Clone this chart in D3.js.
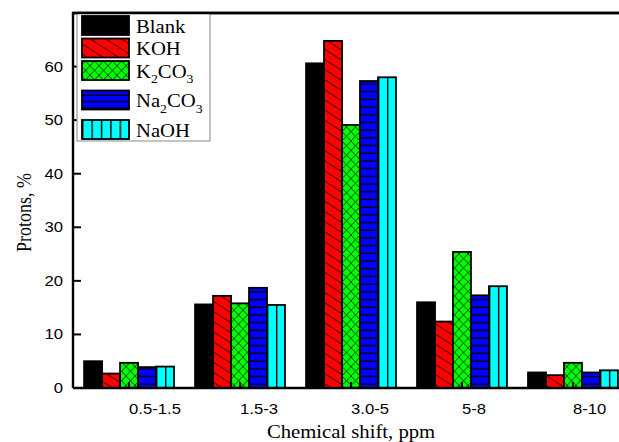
<!DOCTYPE html>
<html>
<head>
<meta charset="utf-8">
<script src="https://cdn.jsdelivr.net/npm/d3@7"></script>
<style>
	body { margin: 0; background: #fff; }
	svg { display: block; }
</style>
</head>
<body>
<svg id="visual" width="619" height="442"></svg>
<script>
// data
var categories = ["0.5-1.5", "1.5-3", "3.0-5", "5-8", "8-10"];
var series = ["Blank", "KOH", "K2CO3", "Na2CO3", "NaOH"];
var blank  = [5.0, 15.6, 60.6, 16.0, 2.9];
var koh    = [2.7, 17.2, 64.8, 12.4, 2.4];
var k2co3  = [4.7, 15.8, 49.1, 25.4, 4.7];
var na2co3 = [3.9, 18.7, 57.3, 17.3, 2.9];
var naoh   = [4.0, 15.5, 58.0, 19.0, 3.3];
var yTicks = [0, 10, 20, 30, 40, 50, 60];

var values = [blank, koh, k2co3, na2co3, naoh];
var fills = ["#000000", "#ff0000", "#00ff00", "#0000ff", "#00ffff"];

var svg = d3.select("#visual");
// note: "top" is taken by window.top, so plot edges get their own names
var plotL = 73, plotT = 13, plotB = 388, plotR = 629;
var stretch = "scale(1.15,1)";

var x = d3.scaleBand()
	.domain(categories)
	.range([plotL, plotR])
	.paddingInner(0.19)
	.paddingOuter(0.1);
var xs = d3.scaleBand()
	.domain(series)
	.range([0, x.bandwidth()]);
var y = d3.scaleLinear()
	.domain([0, 70])
	.range([plotB, plotT]);

// hatch patterns
var defs = svg.append("defs");

function hatchKOH(id) {
	var p = defs.append("pattern")
		.attr("id", id)
		.attr("patternUnits", "userSpaceOnUse")
		.attr("width", 20).attr("height", 8.5)
		.attr("patternTransform", "rotate(33)");
	p.append("rect").attr("width", 20).attr("height", 8.5).attr("fill", fills[1]);
	p.append("line").attr("x1", 0).attr("y1", 0.5).attr("x2", 20).attr("y2", 0.5)
		.attr("stroke", "#000").attr("stroke-width", 0.75);
}
function hatchK2CO3(id) {
	var p = defs.append("pattern")
		.attr("id", id)
		.attr("patternUnits", "userSpaceOnUse")
		.attr("width", 9).attr("height", 9.4);
	p.append("rect").attr("width", 9).attr("height", 9.4).attr("fill", fills[2]);
	p.append("path").attr("d", "M0,0L9,9.4M9,0L0,9.4")
		.attr("stroke", "#030").attr("stroke-width", 0.9).attr("fill", "none");
}
function hatchNa2CO3(id, h) {
	var p = defs.append("pattern")
		.attr("id", id)
		.attr("patternUnits", "userSpaceOnUse")
		.attr("width", 10).attr("height", h);
	p.append("rect").attr("width", 10).attr("height", h).attr("fill", fills[3]);
	p.append("line").attr("x1", 0).attr("y1", h - 0.7).attr("x2", 10).attr("y2", h - 0.7)
		.attr("stroke", "#000").attr("stroke-width", 1.4);
}
function hatchNaOH(id, frac) {
	// tiles follow each box so a line sits at the same place in every bar
	var p = defs.append("pattern")
		.attr("id", id)
		.attr("patternUnits", "objectBoundingBox")
		.attr("width", frac).attr("height", 1);
	p.append("rect").attr("width", 60).attr("height", 500).attr("fill", fills[4]);
	p.append("line").attr("x1", 0.7).attr("y1", 0).attr("x2", 0.7).attr("y2", 500)
		.attr("stroke", "#000").attr("stroke-width", 1.4);
}
hatchKOH("p1");
hatchK2CO3("p2");
hatchNa2CO3("p3", 7.7);
hatchNa2CO3("p3l", 6.4);
hatchNaOH("p4", 0.5);
hatchNaOH("p4l", 0.2);

var barFill = ["#000000", "url(#p1)", "url(#p2)", "url(#p3)", "url(#p4)"];
var legFill = ["#000000", "url(#p1)", "url(#p2)", "url(#p3l)", "url(#p4l)"];

// bars
var rows = [];
categories.forEach(function(c, i) {
	series.forEach(function(s, j) {
		rows.push({ cat: c, s: s, j: j, v: values[j][i] });
	});
});

svg.append("g")
	.selectAll("rect")
	.data(rows)
	.enter()
	.append("rect")
	.attr("x", function(d) { return x(d.cat) + xs(d.s); })
	.attr("y", function(d) { return y(d.v); })
	.attr("width", xs.bandwidth())
	.attr("height", function(d) { return y(0) - y(d.v); })
	.attr("fill", function(d) { return barFill[d.j]; })
	.attr("stroke", "#000")
	.attr("stroke-width", 1.8);

// frame
svg.append("path")
	.attr("d", "M" + plotL + "," + plotB + "V" + plotT + "H" + plotR + "M" + plotL + "," + plotB + "H" + plotR)
	.attr("fill", "none")
	.attr("stroke", "#000")
	.attr("stroke-width", 2.4);

// y axis ticks and labels
var yAxis = svg.append("g");
yAxis.selectAll("line")
	.data(yTicks)
	.enter()
	.append("line")
	.attr("x1", plotL).attr("x2", plotL + 8)
	.attr("y1", function(d) { return y(d); })
	.attr("y2", function(d) { return y(d); })
	.attr("stroke", "#000").attr("stroke-width", 2);
yAxis.selectAll("text")
	.data(yTicks)
	.enter()
	.append("text")
	.attr("transform", function(d) { return "translate(63," + (y(d) + 5) + ") " + stretch; })
	.attr("text-anchor", "end")
	.style("font", "14.5px 'Liberation Sans', Arial, sans-serif")
	.text(function(d) { return d; });

// x axis ticks and labels
var xAxis = svg.append("g");
xAxis.selectAll("line")
	.data(categories)
	.enter()
	.append("line")
	.attr("x1", function(d) { return x(d) + x.bandwidth() / 2; })
	.attr("x2", function(d) { return x(d) + x.bandwidth() / 2; })
	.attr("y1", plotB).attr("y2", plotB - 6)
	.attr("stroke", "#000").attr("stroke-width", 2);
xAxis.selectAll("text")
	.data(categories)
	.enter()
	.append("text")
	.attr("transform", function(d) { return "translate(" + (x(d) + x.bandwidth() / 2) + ",413.5) " + stretch; })
	.attr("text-anchor", "start")
	.style("font", "14.5px 'Liberation Sans', Arial, sans-serif")
	.text(function(d) { return d; });

// axis titles
svg.append("text")
	.attr("transform", "translate(351,438) " + stretch)
	.attr("text-anchor", "middle")
	.style("font", "18px 'Liberation Serif', 'Times New Roman', serif")
	.text("Chemical shift, ppm");
svg.append("text")
	.attr("transform", "translate(31,212.5) rotate(-90) scale(1,1.15)")
	.attr("text-anchor", "middle")
	.style("font", "18px 'Liberation Serif', 'Times New Roman', serif")
	.text("Protons, %");

// legend
var legend = svg.append("g");
legend.append("rect")
	.attr("x", 77).attr("y", plotT).attr("width", 133).attr("height", 128)
	.attr("fill", "#fff").attr("stroke", "#888").attr("stroke-width", 1);

var cy = 25.5;
series.forEach(function(s, j) {
	var hasSub = /\d/.test(s);
	legend.append("rect")
		.attr("x", 82).attr("y", cy - 9.5)
		.attr("width", 47).attr("height", 19)
		.attr("fill", legFill[j])
		.attr("stroke", "#000").attr("stroke-width", 1.8);
	var t = legend.append("text")
		.attr("transform", "translate(136," + (cy + 7) + ") " + stretch)
		.style("font", "18px 'Liberation Serif', 'Times New Roman', serif");
	var parts = s.match(/\d+|\D+/g);
	var down = false;
	parts.forEach(function(part) {
		var sub = /\d/.test(part);
		var ts = t.append("tspan").text(part);
		if (sub) {
			ts.attr("dy", 5.5).style("font-size", "12px");
			down = true;
		} else if (down) {
			ts.attr("dy", -5.5);
			down = false;
		}
	});
	cy += 22.5 + (hasSub ? 7 : 0);
});

// frame top line over the legend box
svg.append("line")
	.attr("x1", plotL).attr("x2", plotR).attr("y1", plotT).attr("y2", plotT)
	.attr("stroke", "#000").attr("stroke-width", 2.4);
</script>
</body>
</html>
